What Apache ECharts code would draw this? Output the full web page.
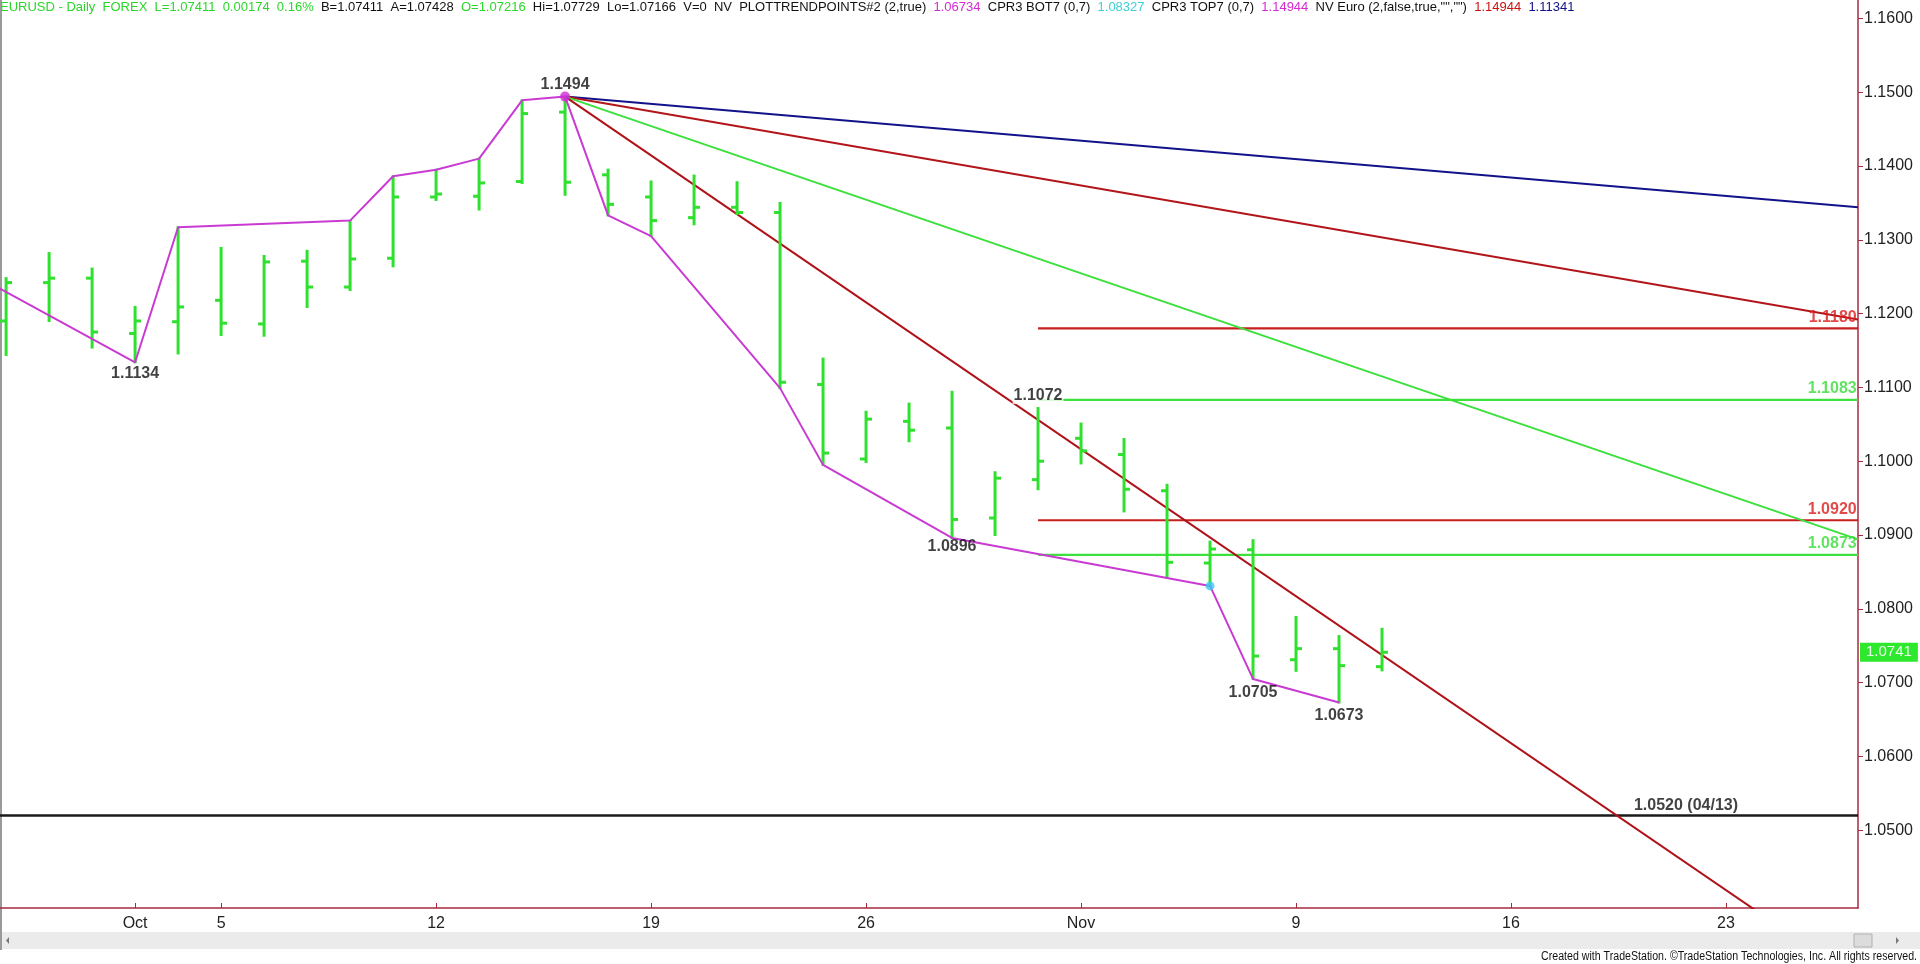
<!DOCTYPE html>
<html><head><meta charset="utf-8">
<script src="https://cdn.jsdelivr.net/npm/echarts@6/dist/echarts.min.js"></script>
<style>html,body{margin:0;padding:0;background:#fff;overflow:hidden}#c{width:1920px;height:964px;}</style>
</head><body><div id="c"></div>
<script>
// ---- data ----
const tradingDays = ['Sep 28','Sep 29','Sep 30','Oct 1','Oct 2','Oct 5','Oct 6','Oct 7','Oct 8','Oct 9',
  'Oct 12','Oct 13','Oct 14','Oct 15','Oct 16','Oct 19','Oct 20','Oct 21','Oct 22','Oct 23',
  'Oct 26','Oct 27','Oct 28','Oct 29','Oct 30','Nov 2','Nov 3','Nov 4','Nov 5','Nov 6',
  'Nov 9','Nov 10','Nov 11'];
const opens  = [1.1190,1.1242,1.1248,1.1173,1.1189,1.1218,1.1186,1.1271,1.1236,1.1275,
  1.1358,1.1359,1.1379,1.1473,1.1388,1.1358,1.1330,1.1344,1.1337,1.1104,
  1.1003,1.1054,1.1045,1.0923,1.0975,1.1031,1.1009,1.0960,1.0862,1.0880,
  1.0731,1.0746,1.07216];
const highs  = [1.1248,1.1282,1.1261,1.1209,1.1317,1.1289,1.1278,1.1285,1.1326,1.1386,
  1.1395,1.1410,1.1489,1.1494,1.1395,1.1379,1.1387,1.1378,1.1350,1.1139,
  1.1067,1.1078,1.1094,1.0985,1.1072,1.1051,1.1030,1.0968,1.0891,1.0893,
  1.0789,1.0763,1.07729];
const lows   = [1.1144,1.1190,1.1154,1.1134,1.1146,1.1171,1.1170,1.1209,1.1232,1.1264,
  1.1354,1.1341,1.1377,1.1361,1.1333,1.1305,1.1321,1.1335,1.1099,1.0995,
  1.0999,1.1027,1.0896,1.0900,1.0962,1.0997,1.0932,1.0842,1.0831,1.0705,
  1.0716,1.0673,1.07166];
const closes = [1.1242,1.1248,1.1175,1.1190,1.1209,1.1187,1.1270,1.1236,1.1274,1.1358,
  1.1362,1.1377,1.1471,1.1378,1.1348,1.1326,1.1344,1.1337,1.1107,1.1011,
  1.1057,1.1042,1.0921,1.0977,1.1000,1.1014,1.0962,1.0863,1.0881,1.0736,
  1.0746,1.0723,1.07411];
const zigzagIdx = [-1,3,4,8,9,10,11,12,13,14,15,18,19,22,28,29,31];
const zigzagVal = [1.1261,1.1134,1.1317,1.1326,1.1386,1.1395,1.1410,1.1489,1.1494,1.1333,1.1305,1.1099,1.0995,1.0896,1.0831,1.0705,1.0673];
const trendStart = [13, 1.1494];
const trendEndIdx = [43.07, 43.07, 43.07, 41];
const trendEndVal = [1.1344, 1.1192, 1.0894, 1.0379];
const levelVals = [1.1180, 1.1083, 1.0920, 1.0873];
const levelStartIdx = 24;
const supportVal = 1.0520;
const supportText = '1.0520 (04/13)';
const supportLabelIdx = 39.07;
const pivotLabelIdx = [13, 3, 22, 24, 29, 31];
const pivotLabelVal = [1.1494, 1.1134, 1.0896, 1.1072, 1.0705, 1.0673];
const pivotLabelPos = ['top','bottom','bottom','top','bottom','bottom'];
const dotIdx = [13, 28];
const dotVal = [1.1494, 1.0831];
const lastPrice = 1.07411;
const tickIdx = [3,5,10,15,20,25,30,35,40];
const tickLabels = ['Oct','5','12','19','26','Nov','9','16','23'];
const priceTicks = [1.05,1.06,1.07,1.08,1.09,1.10,1.11,1.12,1.13,1.14,1.15,1.16];
const XMIN = -0.142, XMAX = 43.07, YMIN = 1.03946, YMAX = 1.16249;

// ---- styles ----
const GREEN = '#2fe02f', MAG = '#c93ad2', AXIS = '#a8283e';
const FONT = '"Liberation Sans", Arial, sans-serif';

const chart = echarts.init(document.getElementById('c'), null, {renderer: 'canvas'});

const bars = opens.map((o, i) => [i, o, highs[i], lows[i], closes[i]]);
const lineSeries = (data, color, width, z) => ({
  type: 'line', data, symbol: 'none', silent: true, animation: false, z: z || 3,
  lineStyle: {color, width}, clip: true
});

const trendColors = ['#12128a', '#b3161a', '#3be03b', '#b0121a'];
const series = [];
const levelColors = ['#c81e1e', '#3ee03e', '#c81e1e', '#3ee03e'];
levelVals.forEach((v, i) => series.push(lineSeries([[levelStartIdx, v], [XMAX, v]], levelColors[i], 2.2, 2)));
series.push(lineSeries([[XMIN, supportVal], [XMAX, supportVal]], '#1a1a1a', 2.4, 2));
trendEndVal.forEach((v, i) => series.push(lineSeries([trendStart, [trendEndIdx[i], v]], trendColors[i], 2, 3)));
series.push({
  type: 'custom', data: bars, encode: {x: 0, y: [1, 2, 3, 4]}, z: 4, animation: false, silent: true,
  renderItem(params, api) {
    const x = api.value(0);
    const o = api.coord([x, api.value(1)]);
    const h = api.coord([x, api.value(2)]);
    const l = api.coord([x, api.value(3)]);
    const c = api.coord([x, api.value(4)]);
    const style = {stroke: GREEN, lineWidth: 3};
    return {type: 'group', children: [
      {type: 'line', shape: {x1: h[0], y1: h[1] - 1, x2: l[0], y2: l[1] + 1}, style},
      {type: 'line', shape: {x1: o[0] - 6, y1: o[1], x2: o[0], y2: o[1]}, style},
      {type: 'line', shape: {x1: c[0], y1: c[1], x2: c[0] + 6, y2: c[1]}, style}
    ]};
  }
});
series.push(lineSeries(zigzagIdx.map((x, i) => [x, zigzagVal[i]]), MAG, 2, 5));
series.push({
  type: 'scatter', z: 6, silent: true, animation: false, symbolSize: 9,
  data: [
    {value: [dotIdx[0], dotVal[0]], symbolSize: 10, itemStyle: {color: '#d02ad8'}},
    {value: [dotIdx[1], dotVal[1]], symbolSize: 9, itemStyle: {color: '#3cc8f0'}}
  ]
});
const lbl = {show: true, fontFamily: FONT, fontWeight: 'bold', fontSize: 16, color: '#111'};
const annData = [];
pivotLabelIdx.forEach((x, i) => {
  const dist = [4, 3, 1, 4, 6, 5][i];
  const item = {value: [x, pivotLabelVal[i]], label: Object.assign({}, lbl, {
    formatter: pivotLabelVal[i].toFixed(4), position: pivotLabelPos[i], distance: dist})};
  if (x === 24) { item.label.backgroundColor = '#fff'; item.label.padding = [0, 1]; }
  annData.push(item);
});
levelVals.forEach((v, i) => annData.push({value: [XMAX - 0.03, v], label: Object.assign({}, lbl, {
  formatter: v.toFixed(4), position: 'top', align: 'right', distance: 3, color: i % 2 ? '#38dc38' : '#dc1c1c'})}));
annData.push({value: [supportLabelIdx, supportVal], label: Object.assign({}, lbl, {
  formatter: supportText, position: 'top', distance: 2})});
series.push({type: 'scatter', z: 10, silent: true, animation: false, symbolSize: 0, data: annData, clip: false});

const option = {
  backgroundColor: '#fff',
  animation: false,
  title: {
    left: 0, top: 1, padding: 0,
    text: '{g|EURUSD - Daily  FOREX  L=1.07411  0.00174  0.16%}{k|  B=1.07411  A=1.07428  }{g|O=1.07216}' +
      '{k|  Hi=1.07729  Lo=1.07166  V=0  NV  PLOTTRENDPOINTS#2 (2,true)  }{m|1.06734}{k|  CPR3 BOT7 (0,7)  }' +
      '{c|1.08327}{k|  CPR3 TOP7 (0,7)  }{m|1.14944}{k|  NV Euro (2,false,true,"","")  }{r|1.14944}{k|  }{n|1.11341}',
    textStyle: {
      fontSize: 13, fontFamily: FONT, fontWeight: 'normal',
      rich: {
        g: {color: '#2cd62c', fontSize: 13, fontFamily: FONT},
        k: {color: '#111', fontSize: 13, fontFamily: FONT},
        m: {color: '#d42ad4', fontSize: 13, fontFamily: FONT},
        c: {color: '#3dd0d8', fontSize: 13, fontFamily: FONT},
        r: {color: '#cc1111', fontSize: 13, fontFamily: FONT},
        n: {color: '#10108a', fontSize: 13, fontFamily: FONT}
      }
    }
  },
  grid: {left: 0, right: 62, top: 0, bottom: 56, containLabel: false},
  xAxis: {
    type: 'value', min: XMIN, max: XMAX,
    axisLine: {show: true, onZero: false, lineStyle: {color: AXIS, width: 1.5}},
    axisTick: {show: true, inside: true, length: 5, customValues: tickIdx, lineStyle: {color: AXIS}},
    axisLabel: {show: true, customValues: tickIdx, margin: 8, fontSize: 16, fontFamily: FONT, color: '#222',
      formatter: v => { const k = tickIdx.indexOf(Math.round(v)); return k >= 0 ? tickLabels[k] : ''; }},
    splitLine: {show: false}
  },
  yAxis: {
    type: 'value', position: 'right', min: YMIN, max: YMAX,
    axisLine: {show: true, onZero: false, lineStyle: {color: AXIS, width: 1.5}},
    axisTick: {show: true, length: 5, customValues: priceTicks, lineStyle: {color: AXIS}},
    axisLabel: {show: true, customValues: priceTicks, margin: 6, fontSize: 16, fontFamily: FONT, color: '#222',
      formatter: v => v.toFixed(4)},
    splitLine: {show: false},
    axisPointer: {
      show: true, value: lastPrice, status: 'show', triggerTooltip: false, snap: false,
      lineStyle: {opacity: 0, width: 0},
      label: {show: true, formatter: p => Number(p.value).toFixed(4), backgroundColor: '#2ee82e',
        color: '#eaffea', fontSize: 15, fontFamily: FONT, padding: [2, 6, 2, 6], margin: 2, borderRadius: 0}
    }
  },
  graphic: [
    {type: 'line', shape: {x1: 1, y1: 0, x2: 1, y2: 950}, style: {stroke: '#9a9a9a', lineWidth: 2}, silent: true},
    {type: 'rect', shape: {x: 2, y: 932, width: 1918, height: 17}, style: {fill: '#ebebeb'}, silent: true, z: -1},
    {type: 'rect', shape: {x: 1854, y: 934, width: 18, height: 13}, style: {fill: '#dcdcdc', stroke: '#b0b0b0'}, silent: true},
    {type: 'polygon', shape: {points: [[1896, 937], [1896, 944], [1899, 940.5]]}, style: {fill: '#777'}, silent: true},
    {type: 'polygon', shape: {points: [[9, 937], [9, 944], [6, 940.5]]}, style: {fill: '#777'}, silent: true},
    {type: 'text', x: 1917, y: 957, scaleX: 0.885, silent: true,
      style: {text: 'Created with TradeStation. \u00a9TradeStation Technologies, Inc. All rights reserved.',
        font: '12px "Liberation Sans", Arial, sans-serif', fill: '#111', textAlign: 'right', textVerticalAlign: 'middle'}}
  ],
  series
};
chart.setOption(option);
</script></body></html>
